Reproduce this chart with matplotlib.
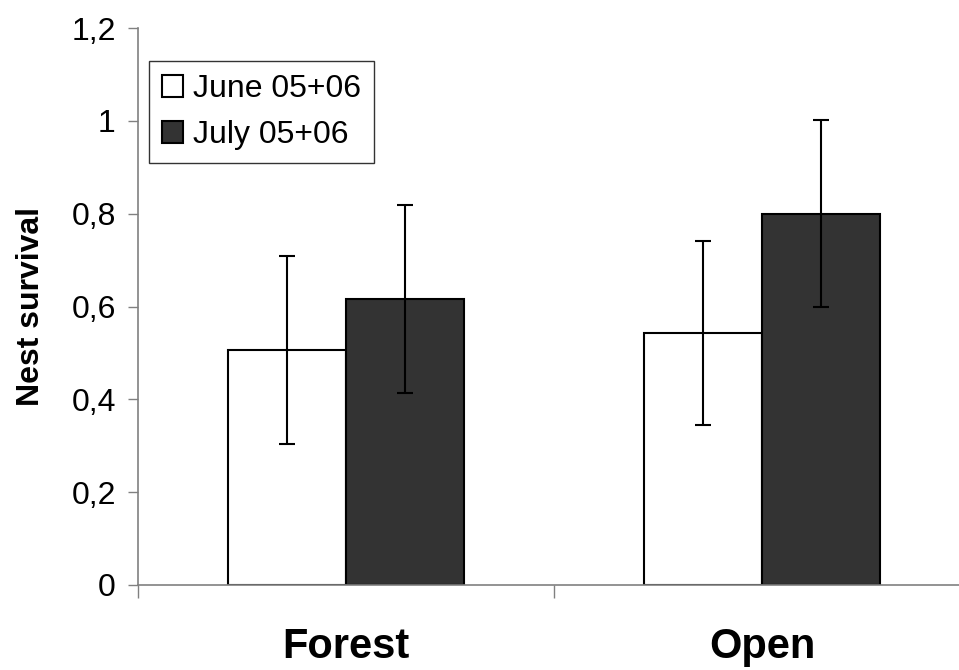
import numpy as np
import matplotlib
matplotlib.use("Agg")
import matplotlib.pyplot as plt

categories = ["Forest", "Open"]
series = ["June 05+06", "July 05+06"]
june_vals = [0.506, 0.543]
july_vals = [0.616, 0.800]
june_err = [0.202, 0.199]
july_err = [0.202, 0.201]
y_ticks = [0, 0.2, 0.4, 0.6, 0.8, 1.0, 1.2]
y_tick_labels = ["0", "0,2", "0,4", "0,6", "0,8", "1", "1,2"]


def main():
    plt.rcParams["font.family"] = ["Liberation Sans", "DejaVu Sans"]
    fig = plt.figure(figsize=(9.59, 6.70), dpi=100)
    ax = fig.add_axes([138 / 959, 85 / 670, 832 / 959, 557 / 670])

    x = np.arange(len(categories))
    width = 0.284
    ax.bar(x - width / 2, june_vals, width, color="white", edgecolor="black",
           linewidth=1.5, label=series[0], zorder=2)
    ax.bar(x + width / 2, july_vals, width, color="#333333", edgecolor="black",
           linewidth=1.5, label=series[1], zorder=2)
    ax.errorbar(x - width / 2, june_vals, yerr=june_err, fmt="none", ecolor="black",
                elinewidth=1.5, capsize=6, capthick=1.5, zorder=3)
    ax.errorbar(x + width / 2, july_vals, yerr=july_err, fmt="none", ecolor="black",
                elinewidth=1.5, capsize=6, capthick=1.5, zorder=3)

    ax.set_xlim(-0.5, len(categories) - 0.5)
    ax.set_ylim(0, 1.2)
    ax.set_yticks(y_ticks)
    ax.set_yticklabels(y_tick_labels, fontsize=23)
    ax.tick_params(axis="y", direction="out", length=7, width=1, color="#808080", pad=9)

    ax.set_xticks(np.arange(-0.5, len(categories)))
    ax.set_xticklabels([])
    ax.tick_params(axis="x", which="major", direction="out", length=9, width=1, color="#808080")
    ax.set_xticks(x, minor=True)
    ax.set_xticklabels(categories, minor=True, fontsize=30, fontweight="bold")
    ax.tick_params(axis="x", which="minor", length=0, pad=30)

    for side in ["top", "right"]:
        ax.spines[side].set_visible(False)
    for side in ["left", "bottom"]:
        ax.spines[side].set_color("#808080")
        ax.spines[side].set_linewidth(1.2)

    ax.set_ylabel("Nest survival", fontsize=23, fontweight="bold", labelpad=18)

    leg = ax.legend(loc="upper left", bbox_to_anchor=(0.013, 0.94), fontsize=23,
                    frameon=True, fancybox=False, edgecolor="black",
                    handlelength=0.68, handleheight=0.68, handletextpad=0.3,
                    borderpad=0.4, labelspacing=0.5, borderaxespad=0)
    leg.get_frame().set_linewidth(1.0)

    fig.savefig("out.png", dpi=100)


if __name__ == "__main__":
    main()
